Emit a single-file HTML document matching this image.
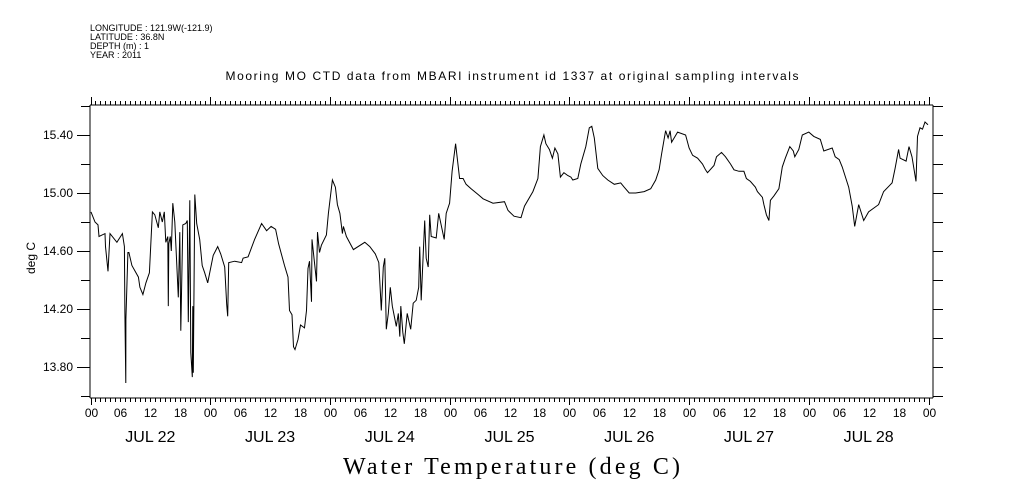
<!DOCTYPE html>
<html><head><meta charset="utf-8"><style>
html,body{margin:0;padding:0;background:#fff;}
svg{display:block;font-family:"Liberation Sans",sans-serif;}
</style></head><body>
<svg id="chart" width="1009" height="504" viewBox="0 0 1009 504" xmlns="http://www.w3.org/2000/svg">
<g font-size="9" fill="#000">
<text x="90" y="31">LONGITUDE : 121.9W(-121.9)</text>
<text x="90" y="40">LATITUDE : 36.8N</text>
<text x="90" y="49">DEPTH (m) : 1</text>
<text x="90" y="58">YEAR : 2011</text>
</g>
<text x="512" y="80" font-size="12" text-anchor="middle" textLength="573">Mooring MO CTD data from MBARI instrument id 1337 at original sampling intervals</text>
<text transform="translate(35,258) rotate(-90)" font-size="12" text-anchor="middle">deg C</text>
<text x="343" y="474" font-family="'Liberation Serif',serif" font-size="24" textLength="337">Water Temperature (deg C)</text>
<g id="axes"></g>
<polyline id="line" fill="none" stroke="#000" stroke-width="1"/>
</svg>
<script>
const hours=[0.1,0.9,1.5,1.7,2.9,3,3.5,3.9,5.3,6.4,6.8,6.9,7.07,7.1,7.5,7.7,8.3,9.6,9.9,10.5,11.1,11.8,12.4,12.9,13.6,13.9,14.4,14.8,15.1,15.5,15.6,15.7,16,16.2,16.5,16.9,17.6,17.9,18.1,18.5,19.1,19.4,19.6,19.9,20.1,20.4,20.5,20.6,20.9,21.3,21.9,22.4,22.9,23.5,24.6,25.5,26.1,26.9,27.3,27.5,27.7,28.9,30.3,30.6,31.6,32.9,34.3,35.3,36.2,37.1,37.7,38.9,39.6,39.9,40.4,40.7,41,41.6,42.1,42.9,43.3,43.6,43.9,44.3,44.4,45.3,45.5,45.9,46.3,47.3,47.7,48.5,49.1,49.5,50,50.5,50.7,51.3,52.7,55,56,57.1,57.8,58,58.3,58.7,59,59.3,59.7,60.1,60.5,61.3,61.7,62,62.2,62.6,62.9,63.5,64.2,64.7,65.3,65.8,66,66.3,67,67.3,67.7,68,68.3,69.3,69.8,70.9,71.3,72,72.5,73.2,74,74.7,75.3,76.3,77.7,78.7,80.7,83,83.7,84.9,86.3,87,88.7,89.7,90.2,90.9,91.3,92,92.6,93.1,93.7,94.2,94.9,95.7,96.3,96.7,97.7,98.3,99.3,100,100.5,101,101.7,102.7,103.7,105,106.3,107,108,109.3,111,112.3,113.3,114,114.5,115,115.3,115.8,116.2,116.5,117.7,119.3,120,120.7,121.7,122.7,123.3,123.7,125,125.5,126.5,127.3,128.3,129,130,131,131.5,132.3,133.3,133.7,134.7,135,135.5,136,136.3,137,138,138.7,139.3,140.2,140.9,141.2,142,142.7,144,145,146.3,147,148.7,149.3,150.1,150.7,152,152.7,153.2,154,155,156,158,159,160.7,161.3,162,162.3,163.5,164.1,164.7,165.5,165.8,166.3,166.8,167.3,167.9];
const temps=[14.87,14.80,14.78,14.70,14.72,14.63,14.46,14.72,14.66,14.72,14.63,14.17,13.69,14.13,14.59,14.59,14.50,14.42,14.35,14.30,14.38,14.45,14.87,14.85,14.76,14.87,14.80,14.87,14.66,14.70,14.22,14.65,14.70,14.60,14.93,14.80,14.28,14.73,14.05,14.78,14.79,14.81,14.11,14.95,13.90,13.73,14.22,13.76,14.99,14.79,14.68,14.50,14.45,14.38,14.57,14.63,14.58,14.49,14.23,14.15,14.52,14.53,14.52,14.55,14.56,14.68,14.79,14.74,14.77,14.75,14.65,14.50,14.42,14.19,14.16,13.94,13.92,13.99,14.09,14.07,14.19,14.48,14.53,14.25,14.68,14.39,14.73,14.59,14.64,14.71,14.86,15.09,15.04,14.92,14.86,14.72,14.77,14.70,14.61,14.66,14.63,14.58,14.52,14.39,14.19,14.49,14.55,14.06,14.17,14.35,14.22,14.08,14.17,14.01,14.22,14.04,13.96,14.17,14.06,14.24,14.26,14.35,14.63,14.26,14.81,14.55,14.49,14.85,14.70,14.69,14.86,14.68,14.86,14.93,15.15,15.34,15.10,15.10,15.06,15.03,14.99,14.96,14.93,14.94,14.88,14.84,14.83,14.91,15.01,15.10,15.32,15.40,15.34,15.30,15.24,15.31,15.27,15.11,15.14,15.12,15.11,15.09,15.10,15.20,15.32,15.45,15.46,15.38,15.17,15.12,15.09,15.06,15.07,15.04,15.00,15.00,15.01,15.03,15.09,15.16,15.27,15.37,15.43,15.38,15.43,15.35,15.42,15.40,15.31,15.26,15.24,15.20,15.16,15.14,15.19,15.25,15.28,15.25,15.20,15.16,15.15,15.15,15.10,15.08,15.04,15.01,14.97,14.92,14.85,14.81,14.95,14.98,15.03,15.18,15.24,15.32,15.29,15.25,15.30,15.40,15.42,15.39,15.37,15.29,15.31,15.25,15.23,15.18,15.04,14.91,14.77,14.92,14.81,14.87,14.92,15.01,15.07,15.17,15.30,15.24,15.22,15.32,15.25,15.08,15.39,15.45,15.44,15.49,15.47];
const yTicks=[13.8,14.2,14.6,15.0,15.4];
const yTickLabels=["13.80","14.20","14.60","15.00","15.40"];
const dayLabels=["JUL 22","JUL 23","JUL 24","JUL 25","JUL 26","JUL 27","JUL 28"];
const hourLabels=["00","06","12","18"];

const X0=90.5,X1=928.5,H=168,L=90,R=933,T=105,B=398;
function xs(h){return X0+(X1-X0)*h/H;}
function ys(v){return 135+(15.4-v)*145;}
const NS="http://www.w3.org/2000/svg";
const ax=document.getElementById('axes');
function ln(x1,y1,x2,y2,name){const e=document.createElementNS(NS,'line');
e.setAttribute('x1',x1);e.setAttribute('y1',y1);e.setAttribute('x2',x2);e.setAttribute('y2',y2);
e.setAttribute('stroke','#000');e.setAttribute('stroke-width','1');


ax.appendChild(e);return e;}
function tx(x,y,s,size,anchor,name){const e=document.createElementNS(NS,'text');
e.setAttribute('x',x);e.setAttribute('y',y);e.setAttribute('font-size',size);e.setAttribute('text-anchor',anchor);
e.textContent=s;


ax.appendChild(e);return e;}
ln(L,T,R,T,'frame-top');ln(L,B,R,B,'frame-bottom');ln(L,T,L,B,'frame-left');ln(R,T,R,B,'frame-right');
for(let h=0;h<=H;h++){const x=Math.round(xs(h))+0.5;const maj=h%24===0;
ln(x,T,x,T-(maj?8:4),'top-tick');
ln(x,B,x,B+(maj?7:4),'bottom-tick');
if(h%6===0){tx(x,417,hourLabels[(h/6)%4],12,'middle','x-hour-label');}
}
for(let d=0;d<dayLabels.length;d++){tx(xs(d*24+12),442,dayLabels[d],16,'middle','x-day-label');}
for(let v=13.6;v<=15.61;v+=0.2){const y=Math.round(ys(v))+0.5;const isMaj=yTicks.some(t=>Math.abs(t-v)<1e-6);
ln(L,y,isMaj?77:81,y,'y-tick-left');ln(R,y,943,y,'y-tick-right');}
yTicks.forEach((v,i)=>tx(73,ys(v)+4,yTickLabels[i],12,'end','y-tick-label'));
document.getElementById('line').setAttribute('points',hours.map((h,i)=>xs(h).toFixed(1)+','+ys(temps[i]).toFixed(1)).join(' '));
</script>
</body></html>
